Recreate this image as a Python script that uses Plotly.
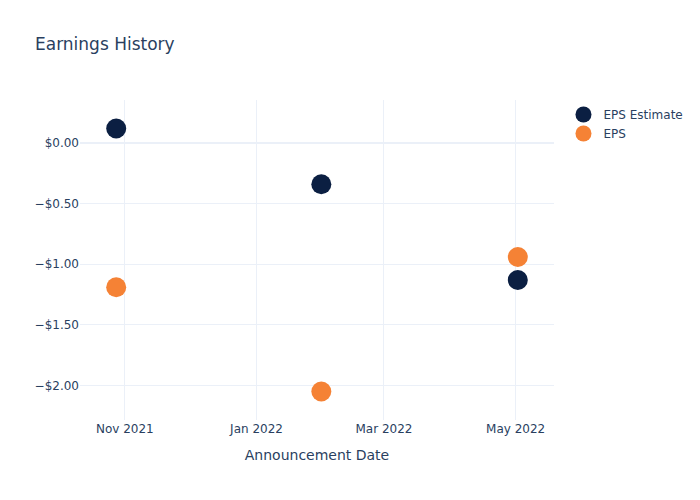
import plotly.graph_objects as go

dates = ["2021-10-28", "2022-01-31", "2022-05-02"]
eps_estimate = [0.12, -0.34, -1.13]
eps_actual = [-1.19, -2.05, -0.94]

fig = go.Figure()
fig.add_trace(go.Scatter(x=dates, y=eps_estimate, mode="markers", name="EPS Estimate",
                         marker=dict(color="#0b1f42", size=20)))
fig.add_trace(go.Scatter(x=dates, y=eps_actual, mode="markers", name="EPS",
                         marker=dict(color="#f58235", size=20)))
fig.update_layout(
    template="plotly_white",
    width=700, height=500,
    font=dict(family="DejaVu Sans"),
    title=dict(text="Earnings History"),
    xaxis=dict(title=dict(text="Announcement Date")),
    yaxis=dict(tickformat="$.2f"),
)
fig.write_html("out.html")
